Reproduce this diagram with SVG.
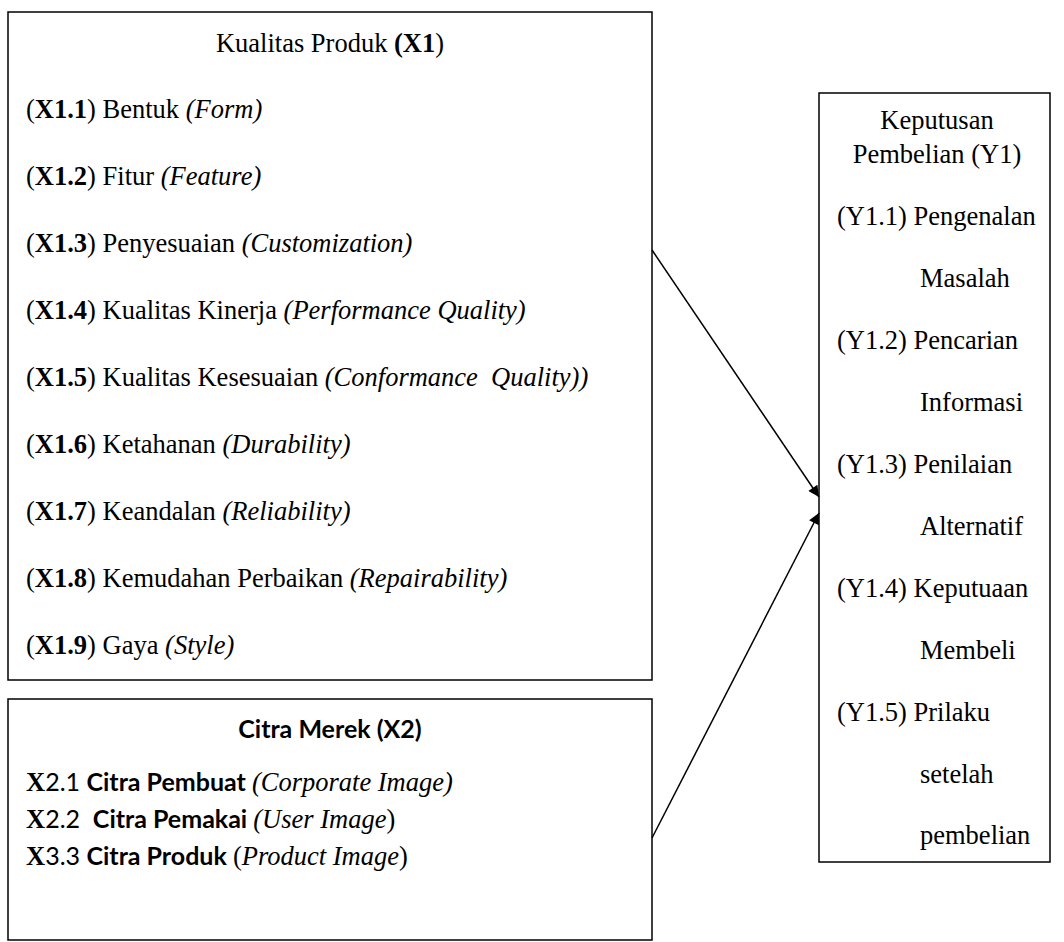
<svg xmlns="http://www.w3.org/2000/svg" width="1064" height="942" viewBox="0 0 1064 942">
<style>
.box{fill:#fff;stroke:#000;stroke-width:1.5}
.t{font-family:"Liberation Serif","Times New Roman",serif;font-size:26.5px;fill:#000}
.s{font-family:Lato,"Open Sans","Liberation Sans",sans-serif;font-size:25px;fill:#000}
.b{font-weight:bold}
.i{font-style:italic}
.c{stroke:#000;stroke-width:1.5;fill:none}
</style>
<defs>
<marker id="ah" viewBox="0 0 10 10" refX="10" refY="5" markerWidth="15" markerHeight="11" markerUnits="userSpaceOnUse" orient="auto">
<path d="M0,0 L10,5 L0,10 z" fill="#000"/>
</marker>
</defs>
<g id="x1">
<rect class="box" x="8" y="12" width="644" height="668"/>
<text class="t" x="330" y="52" text-anchor="middle">Kualitas Produk <tspan class="b">(X1</tspan>)</text>
<text class="t" x="26" y="118">(<tspan class="b">X1.1</tspan>) Bentuk <tspan class="i">(Form)</tspan></text>
<text class="t" x="26" y="185">(<tspan class="b">X1.2</tspan>) Fitur <tspan class="i">(Feature)</tspan></text>
<text class="t" x="26" y="252">(<tspan class="b">X1.3</tspan>) Penyesuaian <tspan class="i">(Customization)</tspan></text>
<text class="t" x="26" y="319">(<tspan class="b">X1.4</tspan>) Kualitas Kinerja <tspan class="i">(Performance Quality)</tspan></text>
<text class="t" x="26" y="386" xml:space="preserve">(<tspan class="b">X1.5</tspan>) Kualitas Kesesuaian <tspan class="i">(Conformance  Quality))</tspan></text>
<text class="t" x="26" y="453">(<tspan class="b">X1.6</tspan>) Ketahanan <tspan class="i">(Durability)</tspan></text>
<text class="t" x="26" y="520">(<tspan class="b">X1.7</tspan>) Keandalan <tspan class="i">(Reliability)</tspan></text>
<text class="t" x="26" y="587">(<tspan class="b">X1.8</tspan>) Kemudahan Perbaikan <tspan class="i">(Repairability)</tspan></text>
<text class="t" x="26" y="654">(<tspan class="b">X1.9</tspan>) Gaya <tspan class="i">(Style)</tspan></text>
</g>
<g id="x2">
<rect class="box" x="8" y="699" width="644" height="241"/>
<text class="s b" x="330" y="738" text-anchor="middle">Citra Merek (X2)</text>
<text x="26" y="791" xml:space="preserve"><tspan class="t b">X</tspan><tspan class="s">2.1 </tspan><tspan class="s b">Citra Pembuat </tspan><tspan class="t i">(Corporate Image)</tspan></text>
<text x="26" y="828" xml:space="preserve"><tspan class="t b">X</tspan><tspan class="s">2.2  </tspan><tspan class="s b">Citra Pemakai </tspan><tspan class="t i">(User Image</tspan><tspan class="t">)</tspan></text>
<text x="26" y="865" xml:space="preserve"><tspan class="t b">X</tspan><tspan class="s">3.3 </tspan><tspan class="s b">Citra Produk </tspan><tspan class="t">(</tspan><tspan class="t i">Product Image</tspan><tspan class="t">)</tspan></text>
</g>
<g id="y1">
<rect class="box" x="819" y="93" width="231" height="769"/>
<text class="t" x="937" y="129" text-anchor="middle">Keputusan</text>
<text class="t" x="937" y="163" text-anchor="middle">Pembelian (Y1)</text>
<text class="t" x="837" y="225">(Y1.1) Pengenalan</text>
<text class="t" x="920" y="287">Masalah</text>
<text class="t" x="837" y="349">(Y1.2) Pencarian</text>
<text class="t" x="920" y="411">Informasi</text>
<text class="t" x="837" y="473">(Y1.3) Penilaian</text>
<text class="t" x="920" y="535">Alternatif</text>
<text class="t" x="837" y="597">(Y1.4) Keputuaan</text>
<text class="t" x="920" y="659">Membeli</text>
<text class="t" x="837" y="721">(Y1.5) Prilaku</text>
<text class="t" x="920" y="783">setelah</text>
<text class="t" x="920" y="844">pembelian</text>
</g>
<g id="connectors">
<line class="c" x1="652" y1="250" x2="819" y2="497" marker-end="url(#ah)"/>
<line class="c" x1="652" y1="838" x2="819" y2="513" marker-end="url(#ah)"/>
</g>
</svg>
